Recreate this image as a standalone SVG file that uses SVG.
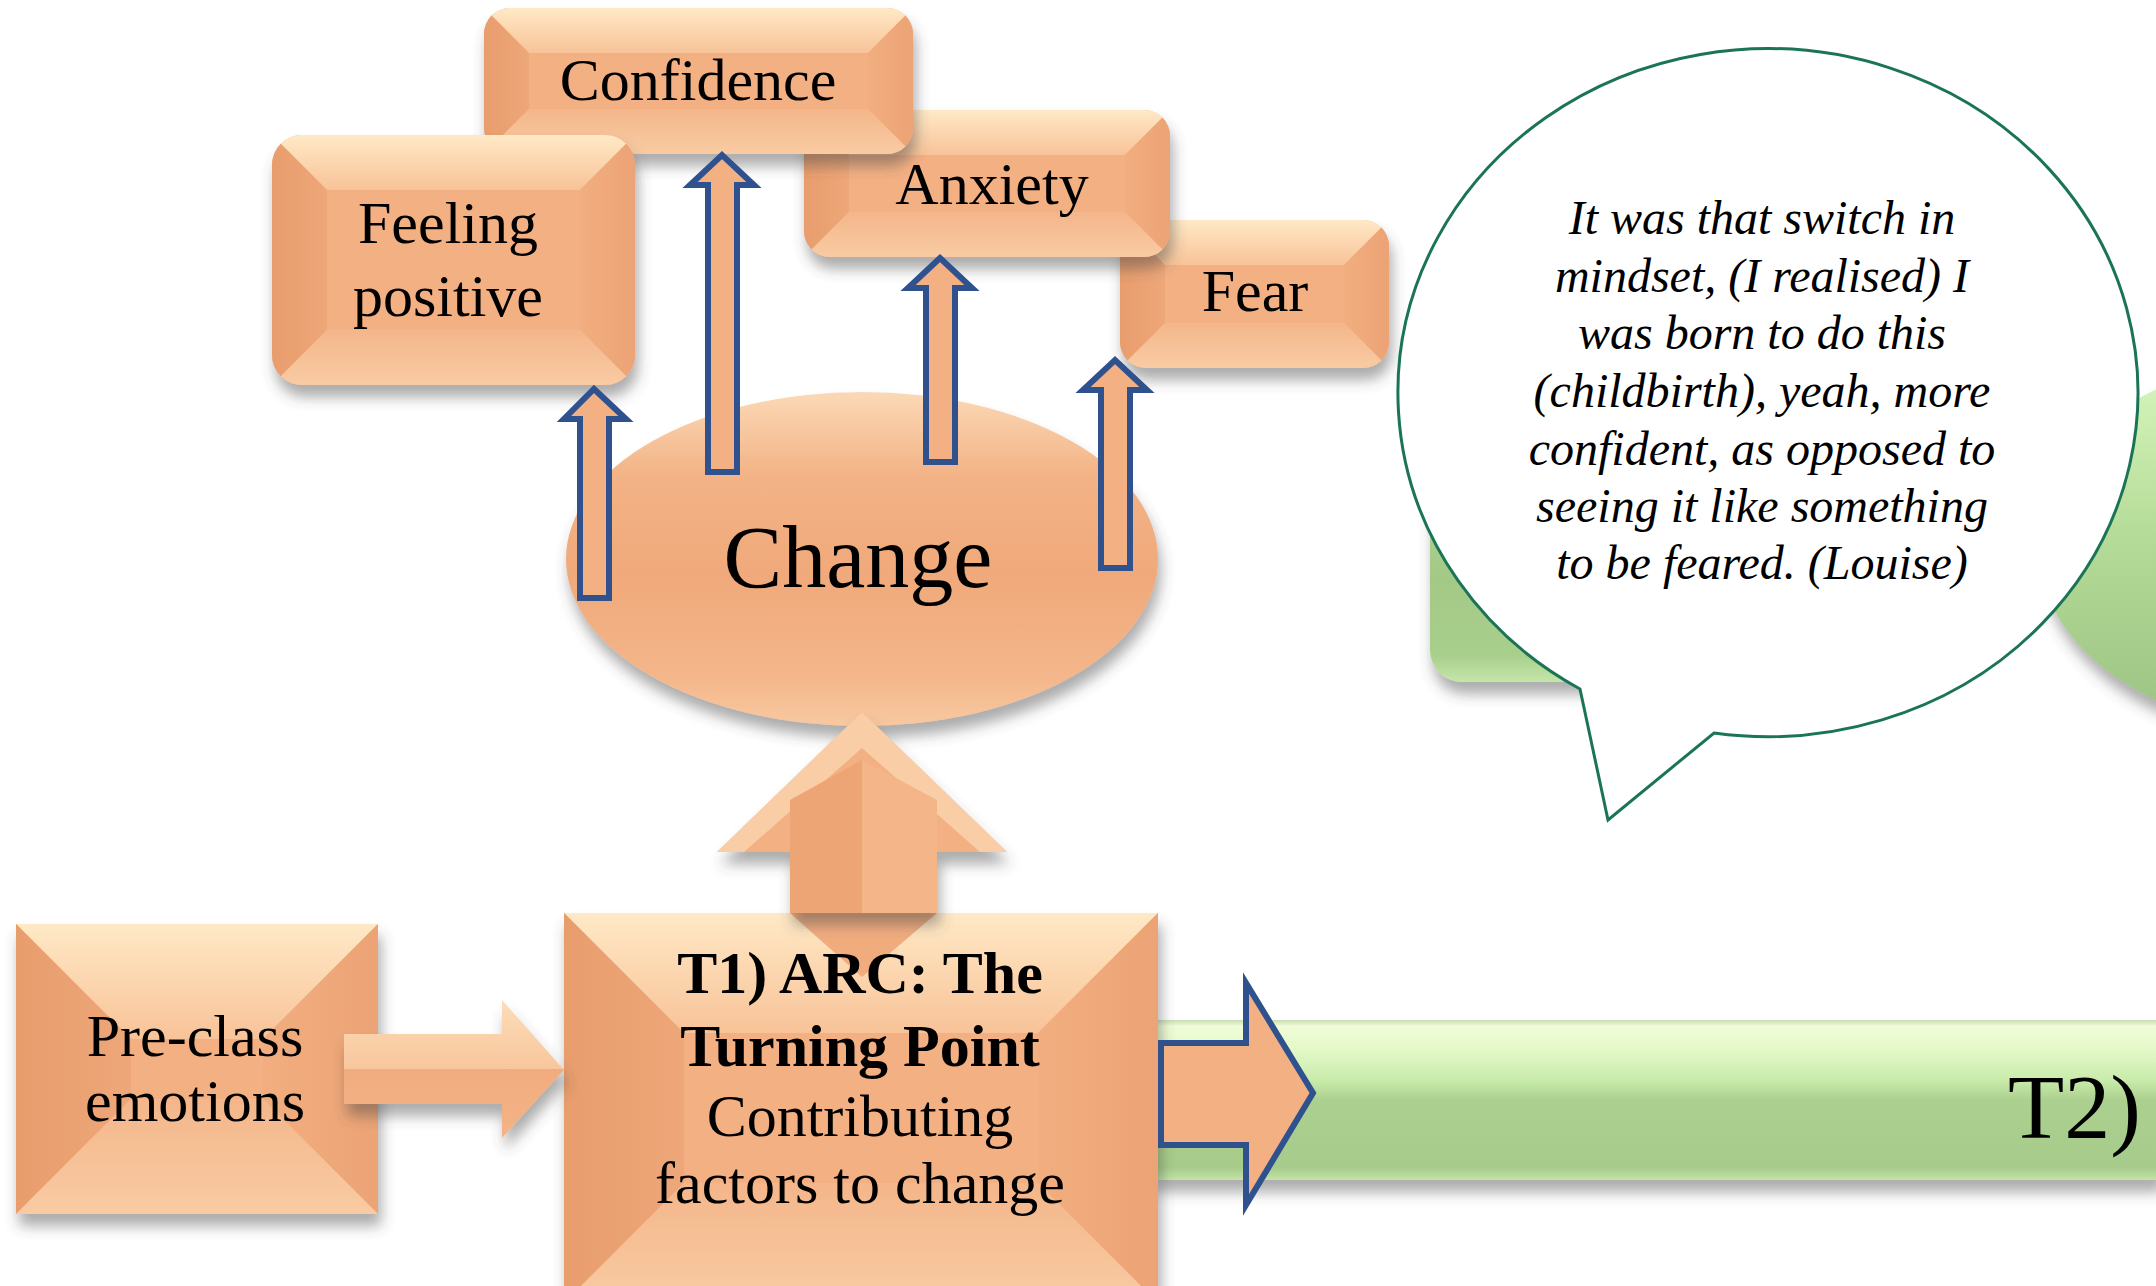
<svg xmlns="http://www.w3.org/2000/svg" width="2156" height="1286" viewBox="0 0 2156 1286">
<style>
.lbl{font-family:"Liberation Serif","Times New Roman",serif;fill:#000;text-anchor:middle;}
.b{font-weight:bold;}
.q{font-family:"Liberation Serif","Times New Roman",serif;font-style:italic;font-size:48px;fill:#000;text-anchor:middle;}
.base{fill:#F3B083;}
.bt{fill:url(#gTop);}
.bl{fill:url(#gLeft);}
.br{fill:url(#gRight);}
.bb{fill:url(#gBot);}
.ua{fill:#F3B083;stroke:#2F528F;stroke-width:6;stroke-linejoin:miter;}
</style>
<defs>
<filter id="sh" x="-15%" y="-15%" width="135%" height="145%">
<feDropShadow dx="3" dy="12" stdDeviation="7" flood-color="#444" flood-opacity="0.45"/>
</filter>
<linearGradient id="gTop" x1="0" y1="0" x2="0" y2="1"><stop offset="0" stop-color="#FFE9C6"/><stop offset="1" stop-color="#F8C398"/></linearGradient>
<linearGradient id="gLeft" x1="0" y1="0" x2="1" y2="0"><stop offset="0" stop-color="#E89D6D"/><stop offset="1" stop-color="#EEA779"/></linearGradient>
<linearGradient id="gRight" x1="0" y1="0" x2="1" y2="0"><stop offset="0" stop-color="#F2AE80"/><stop offset="1" stop-color="#ECA375"/></linearGradient>
<linearGradient id="gBot" x1="0" y1="0" x2="0" y2="1"><stop offset="0" stop-color="#F4B68A"/><stop offset="1" stop-color="#F9CBA3"/></linearGradient>
<linearGradient id="gEll" x1="0" y1="0" x2="0" y2="1"><stop offset="0" stop-color="#FBD9B6"/><stop offset="0.25" stop-color="#F3B386"/><stop offset="0.55" stop-color="#F0A97A"/><stop offset="0.85" stop-color="#F4B68A"/><stop offset="1" stop-color="#F8C8A0"/></linearGradient>
<linearGradient id="gBar" x1="0" y1="0" x2="0" y2="1"><stop offset="0" stop-color="#C9DDB5"/><stop offset="0.04" stop-color="#F0FDD8"/><stop offset="0.2" stop-color="#E2F8C6"/><stop offset="0.38" stop-color="#C8EBAA"/><stop offset="0.5" stop-color="#ACD08F"/><stop offset="0.92" stop-color="#A6CB8A"/><stop offset="1" stop-color="#C4E3A8"/></linearGradient>
<linearGradient id="gGR" x1="0" y1="0" x2="0" y2="1"><stop offset="0" stop-color="#B8E09C"/><stop offset="0.6" stop-color="#A4C987"/><stop offset="0.9" stop-color="#A9CF8D"/><stop offset="1" stop-color="#C5E6AA"/></linearGradient>
<linearGradient id="gGE" x1="0" y1="0" x2="0" y2="1"><stop offset="0" stop-color="#D8F7BE"/><stop offset="0.5" stop-color="#B3DA96"/><stop offset="1" stop-color="#9CC283"/></linearGradient>
<linearGradient id="gArr" x1="0" y1="0" x2="0" y2="1"><stop offset="0" stop-color="#FCDDBA"/><stop offset="0.5" stop-color="#F8C69C"/><stop offset="0.5" stop-color="#F1AC7E"/><stop offset="1" stop-color="#F3B487"/></linearGradient>
<clipPath id="cFear"><rect x="1120" y="220" width="269" height="148" rx="26"/></clipPath>
<clipPath id="cAnx"><rect x="804" y="110" width="366" height="147" rx="26"/></clipPath>
<clipPath id="cConf"><rect x="484" y="8" width="429" height="146" rx="26"/></clipPath>
<clipPath id="cFeel"><rect x="272" y="135" width="363" height="250" rx="30"/></clipPath>
</defs>
<rect width="2156" height="1286" fill="#FFFFFF"/>

<!-- background green shapes -->
<g id="green-ellipse"><ellipse cx="2300" cy="545" rx="262" ry="186" fill="url(#gGE)" filter="url(#sh)"/></g>
<g id="green-box"><rect x="1430" y="420" width="520" height="262" rx="32" fill="url(#gGR)" filter="url(#sh)"/></g>
<g id="t2-bar">
<rect x="1150" y="1020" width="1010" height="160" fill="url(#gBar)" filter="url(#sh)"/>
<text class="lbl" x="2008" y="1138" font-size="92" style="text-anchor:start">T2)</text>
</g>

<!-- Change ellipse -->
<g id="change">
<ellipse cx="862" cy="559" rx="296" ry="167" fill="url(#gEll)" filter="url(#sh)"/>
<text class="lbl" x="858" y="587" font-size="88">Change</text>
</g>

<!-- emotion boxes -->
<g id="fear">
<rect x="1120" y="220" width="269" height="148" rx="26" class="base" filter="url(#sh)"/>
<g clip-path="url(#cFear)">
<polygon class="bt" points="1120,220 1389,220 1344,265 1165,265"/>
<polygon class="bl" points="1120,220 1165,265 1165,323 1120,368"/>
<polygon class="br" points="1389,220 1389,368 1344,323 1344,265"/>
<polygon class="bb" points="1120,368 1165,323 1344,323 1389,368"/>
</g>
<text class="lbl" x="1255" y="311" font-size="60">Fear</text>
</g>
<g id="anxiety">
<rect x="804" y="110" width="366" height="147" rx="26" class="base" filter="url(#sh)"/>
<g clip-path="url(#cAnx)">
<polygon class="bt" points="804,110 1170,110 1125,155 849,155"/>
<polygon class="bl" points="804,110 849,155 849,212 804,257"/>
<polygon class="br" points="1170,110 1170,257 1125,212 1125,155"/>
<polygon class="bb" points="804,257 849,212 1125,212 1170,257"/>
</g>
<text class="lbl" x="992" y="204" font-size="60">Anxiety</text>
</g>
<g id="confidence">
<rect x="484" y="8" width="429" height="146" rx="26" class="base" filter="url(#sh)"/>
<g clip-path="url(#cConf)">
<polygon class="bt" points="484,8 913,8 868,53 529,53"/>
<polygon class="bl" points="484,8 529,53 529,109 484,154"/>
<polygon class="br" points="913,8 913,154 868,109 868,53"/>
<polygon class="bb" points="484,154 529,109 868,109 913,154"/>
</g>
<text class="lbl" x="698" y="100" font-size="60">Confidence</text>
</g>
<g id="feeling-positive">
<rect x="272" y="135" width="363" height="250" rx="30" class="base" filter="url(#sh)"/>
<g clip-path="url(#cFeel)">
<polygon class="bt" points="272,135 635,135 580,190 327,190"/>
<polygon class="bl" points="272,135 327,190 327,330 272,385"/>
<polygon class="br" points="635,135 635,385 580,330 580,190"/>
<polygon class="bb" points="272,385 327,330 580,330 635,385"/>
</g>
<text class="lbl" x="448" y="243" font-size="60">Feeling</text>
<text class="lbl" x="448" y="316" font-size="60">positive</text>
</g>

<!-- T1 box -->
<g id="t1">
<rect x="564" y="913" width="594" height="390" class="base" filter="url(#sh)"/>
<polygon class="bt" points="564,913 1158,913 1038,1033 684,1033"/>
<polygon class="bl" points="564,913 684,1033 684,1183 564,1303"/>
<polygon class="br" points="1158,913 1158,1303 1038,1183 1038,1033"/>
<polygon class="bb" points="564,1303 684,1183 1038,1183 1158,1303"/>
<polygon points="790,913 937,913 862,977" fill="#F1AC7E"/>
<text class="lbl b" x="860" y="993" font-size="60">T1) ARC: The</text>
<text class="lbl b" x="860" y="1066" font-size="60">Turning Point</text>
<text class="lbl" x="860" y="1136" font-size="60">Contributing</text>
<text class="lbl" x="860" y="1203" font-size="60">factors to change</text>
</g>

<!-- Pre-class box -->
<g id="pre-class">
<rect x="16" y="924" width="362" height="290" class="base" filter="url(#sh)"/>
<polygon class="bt" points="16,924 378,924 263,1039 131,1039"/>
<polygon class="bl" points="16,924 131,1039 131,1099 16,1214"/>
<polygon class="br" points="378,924 378,1214 263,1099 263,1039"/>
<polygon class="bb" points="16,1214 131,1099 263,1099 378,1214"/>
<text class="lbl" x="195" y="1056" font-size="60">Pre-class</text>
<text class="lbl" x="195" y="1121" font-size="60">emotions</text>
</g>

<!-- connectors -->
<g id="connectors">
<polygon class="ua" points="580,598 580,419 564,419 594,389 626,419 609,419 609,598"/>
<polygon class="ua" points="708,472 708,185 690,185 722,155 754,185 737,185 737,472"/>
<polygon class="ua" points="926,462 926,288 908,288 940,258 972,288 955,288 955,462"/>
<polygon class="ua" points="1101,568 1101,390 1083,390 1115,360 1147,390 1130,390 1130,568"/>
<g filter="url(#sh)">
<polygon points="790,913 790,852 717,852 862,712 1007,852 937,852 937,913" fill="#F3B083"/>
</g>
<polygon points="862,712 1007,852 980,852 862,748 744,852 717,852" fill="#F9CDA6"/>
<polygon points="862,760 937,800 937,913 862,913" fill="#F4B589"/>
<polygon points="790,800 862,760 862,913 790,913" fill="#EEA576"/>
<polygon points="344,1034 502,1034 502,1000 564,1070 502,1138 502,1104 344,1104" fill="url(#gArr)" filter="url(#sh)"/>
<polygon class="ua" points="1161,1043 1246,1043 1246,983 1313,1093 1246,1205 1246,1145 1161,1145"/>
</g>

<!-- speech bubble -->
<g id="quote">
<path d="M 1580 689 L 1608 820 L 1714 733 A 370 344 0 1 0 1580 689 Z" fill="#FFFFFF" stroke="#1B7458" stroke-width="3"/>
<text class="q" x="1762" y="234">It was that switch in</text>
<text class="q" x="1762" y="292">mindset, (I realised) I</text>
<text class="q" x="1762" y="349">was born to do this</text>
<text class="q" x="1762" y="407">(childbirth), yeah, more</text>
<text class="q" x="1762" y="465">confident, as opposed to</text>
<text class="q" x="1762" y="522">seeing it like something</text>
<text class="q" x="1762" y="579">to be feared. (Louise)</text>
</g>
</svg>
